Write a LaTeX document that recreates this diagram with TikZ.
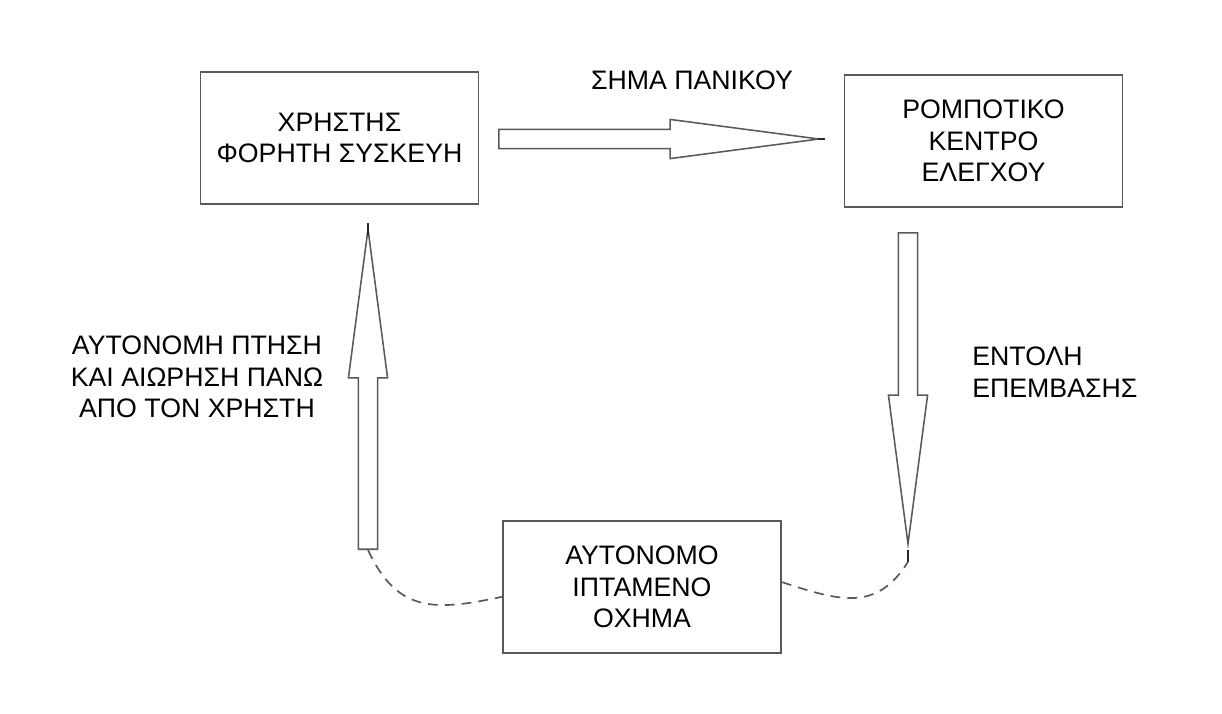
\documentclass[tikz,border=0pt]{standalone}
\usepackage{fontspec}
\setmainfont{Liberation Sans}
\usetikzlibrary{shapes.arrows}

\begin{document}
\begin{tikzpicture}[x=0.025cm, y=-0.025cm,
		every node/.style={font=\fontsize{19}{22.5}\selectfont},
		blok/.style={draw=black!65, line width=1.2pt, minimum width=6.95cm, minimum height=3.3cm, align=center, inner sep=0pt},
		pijl/.style={single arrow, draw=black!65, line width=1.1pt, inner sep=0.22cm, single arrow head extend=0.25cm, single arrow tip angle=15, anchor=tail},
		stip/.style={draw=black!65, line width=1.2pt, dash pattern=on 7pt off 5pt},
		punt/.style={line width=1.6pt, black!85}]
			%%%%% START %%%%%
			
			\useasboundingbox (0, 0) rectangle (1222, 713);
			
			\node[blok] (user) at (339.5, 138) {ΧΡΗΣΤΗΣ\\ΦΟΡΗΤΗ ΣΥΣΚΕΥΗ};
			\node[blok] (centre) at (983.5, 141) {ΡΟΜΠΟΤΙΚΟ\\ΚΕΝΤΡΟ\\ΕΛΕΓΧΟΥ};
			\node[blok] (drone) at (642, 587) {ΑΥΤΟΝΟΜΟ\\ΙΠΤΑΜΕΝΟ\\ΟΧΗΜΑ};
			
			\node[pijl, minimum height=8cm] (sig) at (498, 139) {};
			\node[pijl, minimum height=7.775cm, shape border rotate=270] (cmd) at (908, 232) {};
			\node[pijl, minimum height=8cm, shape border rotate=90] (fly) at (368, 550) {};
			
			\draw[punt] (sig.tip) -- ++(-7, 0);
			\draw[punt] (fly.tip) -- ++(0, 12);
			\draw[punt] (cmd.tip) -- ++(0, 12) coordinate (cmdend);
			
			\draw[stip] (fly.tail) to[out=-65, in=192, looseness=1.25] (drone.184);
			\draw[stip] (drone.2) to[out=-18, in=238, looseness=1.2] (cmdend);
			
			\node (lblsig) at (692, 80) {ΣΗΜΑ ΠΑΝΙΚΟΥ};
			\node[anchor=west, align=left, inner sep=0pt] (lblcmd) at (972, 372) {ΕΝΤΟΛΗ\\ΕΠΕΜΒΑΣΗΣ};
			\node[align=center] (lblfly) at (197, 377) {ΑΥΤΟΝΟΜΗ ΠΤΗΣΗ\\ΚΑΙ ΑΙΩΡΗΣΗ ΠΑΝΩ\\ΑΠΟ ΤΟΝ ΧΡΗΣΤΗ};
			
			%%%%% END %%%%%
\end{tikzpicture}
\end{document}
